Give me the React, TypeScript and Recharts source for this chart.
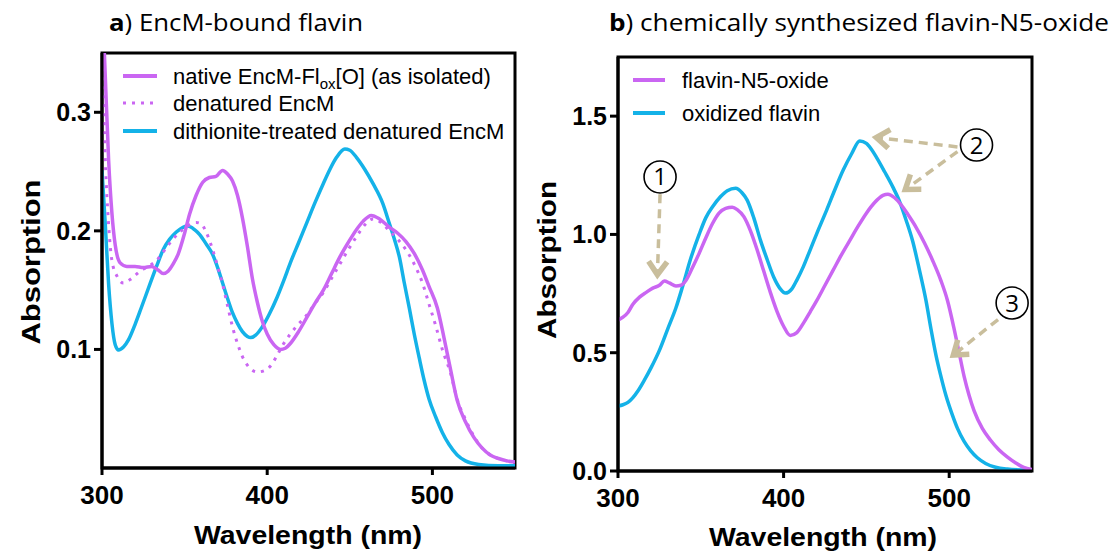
import React from 'react';
import { LineChart, Line, XAxis, YAxis, ReferenceArea, ReferenceLine, ReferenceDot } from 'recharts';

// ---------- Panel a: EncM-bound flavin ----------
const nativeWl = [300, 302, 304, 306, 308, 311, 315, 320, 325, 330, 334, 337, 340, 343, 346, 350, 353, 357, 361, 365, 369, 373, 376, 379, 382, 385, 388, 391, 394, 397, 400, 404, 408, 411, 414, 419, 424, 429, 434, 439, 444, 449, 454, 458, 463, 468, 474, 479, 484, 489, 494, 498, 503, 507, 511, 515, 520, 525, 530, 535, 540, 545, 550];
const nativeAbs = [0.40, 0.33, 0.26, 0.215, 0.188, 0.173, 0.170, 0.170, 0.169, 0.170, 0.167, 0.164, 0.166, 0.172, 0.180, 0.198, 0.214, 0.230, 0.241, 0.245, 0.246, 0.251, 0.248, 0.242, 0.230, 0.211, 0.187, 0.160, 0.140, 0.124, 0.113, 0.104, 0.100, 0.101, 0.105, 0.115, 0.127, 0.139, 0.150, 0.164, 0.178, 0.190, 0.201, 0.208, 0.213, 0.210, 0.203, 0.198, 0.191, 0.181, 0.167, 0.153, 0.135, 0.110, 0.083, 0.057, 0.039, 0.026, 0.017, 0.011, 0.008, 0.006, 0.005];

const denatWl = [300, 302, 304, 306, 309, 313, 318, 323, 328, 333, 338, 343, 348, 353, 357, 360, 363, 367, 370, 373, 376, 379, 382, 385, 389, 394, 398, 402, 406, 410, 414, 418, 424, 429, 434, 439, 444, 449, 454, 459, 464, 469, 474, 479, 484, 489, 494, 498, 502, 506, 511, 515, 520, 525, 530, 535, 540, 545, 550];
const denatAbs = [0.36, 0.26, 0.205, 0.175, 0.162, 0.156, 0.160, 0.166, 0.170, 0.175, 0.184, 0.193, 0.200, 0.205, 0.207, 0.206, 0.199, 0.184, 0.170, 0.155, 0.137, 0.119, 0.105, 0.094, 0.085, 0.081, 0.082, 0.086, 0.095, 0.105, 0.113, 0.120, 0.129, 0.139, 0.148, 0.160, 0.172, 0.184, 0.195, 0.205, 0.210, 0.207, 0.200, 0.193, 0.184, 0.172, 0.156, 0.138, 0.120, 0.100, 0.080, 0.058, 0.041, 0.027, 0.017, 0.011, 0.008, 0.006, 0.005];

const dithWl = [300, 302, 304, 306, 308, 310, 313, 316, 320, 324, 329, 333, 337, 341, 345, 349, 352, 356, 359, 363, 367, 370, 373, 376, 379, 382, 385, 388, 390, 393, 397, 401, 406, 410, 414, 419, 424, 429, 434, 438, 442, 447, 450, 454, 459, 464, 470, 474, 477, 480, 483, 486, 489, 492, 495, 498, 502, 506, 510, 515, 520, 528, 540, 550];
const dithAbs = [0.251, 0.205, 0.155, 0.122, 0.104, 0.0995, 0.102, 0.108, 0.121, 0.136, 0.155, 0.170, 0.184, 0.193, 0.199, 0.203, 0.204, 0.201, 0.197, 0.189, 0.180, 0.169, 0.156, 0.143, 0.131, 0.122, 0.115, 0.111, 0.110, 0.112, 0.119, 0.129, 0.144, 0.158, 0.173, 0.190, 0.207, 0.224, 0.240, 0.252, 0.262, 0.269, 0.268, 0.262, 0.252, 0.240, 0.223, 0.206, 0.193, 0.178, 0.156, 0.135, 0.113, 0.093, 0.074, 0.058, 0.043, 0.030, 0.020, 0.011, 0.006, 0.003, 0.002, 0.002];

const aYTicks = [0.1, 0.2, 0.3];
const xTicks = [300, 400, 500];

// ---------- Panel b: chemically synthesized flavin-N5-oxide ----------
const n5Wl = [300, 303, 306, 309, 313, 317, 321, 325, 328, 331, 335, 338, 341, 345, 349, 353, 357, 361, 365, 369, 372, 376, 380, 384, 388, 392, 396, 400, 404, 408, 412, 416, 420, 425, 430, 435, 440, 445, 450, 455, 460, 463, 467, 471, 475, 480, 485, 490, 495, 499, 503, 506, 509, 512, 515, 520, 525, 530, 535, 540, 545, 550];
const n5Abs = [0.638, 0.65, 0.67, 0.705, 0.735, 0.755, 0.773, 0.785, 0.803, 0.795, 0.782, 0.785, 0.805, 0.86, 0.92, 0.985, 1.045, 1.09, 1.11, 1.115, 1.105, 1.075, 1.015, 0.935, 0.845, 0.755, 0.675, 0.612, 0.573, 0.585, 0.625, 0.672, 0.72, 0.785, 0.85, 0.915, 0.975, 1.035, 1.09, 1.135, 1.165, 1.17, 1.155, 1.125, 1.085, 1.03, 0.965, 0.89, 0.805, 0.72, 0.6, 0.5, 0.4, 0.32, 0.255, 0.18, 0.13, 0.09, 0.06, 0.035, 0.015, 0.006];

const oxWl = [300, 303, 306, 309, 312, 316, 320, 325, 330, 335, 339, 344, 349, 353, 357, 362, 366, 371, 375, 378, 382, 386, 390, 394, 398, 401, 405, 408, 412, 416, 421, 426, 431, 436, 441, 446, 450, 453, 456, 461, 466, 470, 474, 478, 482, 486, 489, 492, 495, 498, 502, 505, 509, 513, 517, 522, 528, 535, 545, 550];
const oxAbs = [0.275, 0.28, 0.29, 0.31, 0.338, 0.385, 0.437, 0.51, 0.6, 0.69, 0.78, 0.9, 1.0, 1.07, 1.116, 1.16, 1.185, 1.195, 1.175, 1.145, 1.07, 0.976, 0.895, 0.82, 0.77, 0.752, 0.77, 0.807, 0.865, 0.934, 1.02, 1.103, 1.19, 1.272, 1.34, 1.395, 1.385, 1.36, 1.327, 1.265, 1.2, 1.14, 1.06, 0.97, 0.85, 0.72, 0.6, 0.49, 0.4, 0.32, 0.235, 0.18, 0.125, 0.085, 0.056, 0.032, 0.016, 0.008, 0.004, 0.003];

const bYTicks = [0, 0.5, 1.0, 1.5];

// annotation anchor points (data coordinates)
const markerLabels = ['1', '2', '3'];
const markerWl = [325.4, 516.5, 538];
const markerAbs = [1.243, 1.378, 0.71];
const arrowFrom = [[325.4, 1.17], [505, 1.37], [505, 1.35], [529.5, 0.64]];
const arrowTo = [[323.8, 0.83], [456, 1.41], [473.5, 1.19], [502.5, 0.49]];

const PURPLE = '#CA66F2';
const BLUE = '#14B2E8';
const TAN = '#C9BE9C';
const FONT = '"Liberation Sans", Arial, sans-serif';
const TFONT = '"Open Sans", sans-serif';

const toData = (wl: number[], ab: number[]) => wl.map((x, i) => ({ x, y: ab[i] }));

const ArrowShape = (p: any) => {
  const { x1, y1, x2, y2 } = p;
  const ang = Math.atan2(y2 - y1, x2 - x1);
  const L = 16;
  const a = 0.62;
  const hx1 = x2 - L * Math.cos(ang - a);
  const hy1 = y2 - L * Math.sin(ang - a);
  const hx2 = x2 - L * Math.cos(ang + a);
  const hy2 = y2 - L * Math.sin(ang + a);
  const sx = x2 - 4 * Math.cos(ang);
  const sy = y2 - 4 * Math.sin(ang);
  return (
    <g>
      <line x1={x1} y1={y1} x2={sx} y2={sy} stroke={TAN} strokeWidth={3.5} strokeDasharray="9 6" />
      <polyline points={`${hx1},${hy1} ${x2},${y2} ${hx2},${hy2}`} fill="none" stroke={TAN} strokeWidth={5.5} strokeLinejoin="miter" />
    </g>
  );
};

const CircleNum = (label: string) => (p: any) => (
  <g>
    <circle cx={p.cx} cy={p.cy} r={16} fill="#fff" stroke="#000" strokeWidth={1.6} />
    <text x={p.cx} y={p.cy + 8.5} textAnchor="middle" fontFamily={TFONT} fontSize={24} fill="#000">{label}</text>
  </g>
);

const tickStyleY = { fontFamily: FONT, fontWeight: 700, fontSize: 25, fill: '#000' };
const tickStyleX = { fontFamily: FONT, fontWeight: 700, fontSize: 26, fill: '#000' };
const axisLine = { stroke: '#000', strokeWidth: 3 };

export default function App() {
  return (
    <div style={{ position: 'absolute', left: 0, top: 0, width: 1120, height: 554, background: '#fff', overflow: 'hidden' }}>
      <div style={{ position: 'absolute', left: 0, top: 0 }}>
        <LineChart width={545} height={554} margin={{ top: 53, right: 30, left: 32, bottom: 36 }}>
          <XAxis dataKey="x" type="number" domain={[300, 550]} ticks={xTicks} allowDataOverflow
            axisLine={axisLine} tickLine={axisLine} tickSize={7} tickMargin={11} tick={tickStyleX} height={50} />
          <YAxis type="number" domain={[0, 0.35]} ticks={aYTicks} allowDataOverflow width={70}
            axisLine={axisLine} tickLine={axisLine} tickSize={8} tickMargin={3} tick={tickStyleY} />
          <ReferenceArea x1={300} x2={550} y1={0} y2={0.35} fill="none" stroke="#000" strokeWidth={3} fillOpacity={0} />
          <Line data={toData(dithWl, dithAbs)} dataKey="y" type="monotone" stroke={BLUE} strokeWidth={3.5} dot={false} isAnimationActive={false} />
          <Line data={toData(denatWl, denatAbs)} dataKey="y" type="monotone" stroke={PURPLE} strokeWidth={3} strokeDasharray="3 6" dot={false} isAnimationActive={false} />
          <Line data={toData(nativeWl, nativeAbs)} dataKey="y" type="monotone" stroke={PURPLE} strokeWidth={3.5} dot={false} isAnimationActive={false} />
        </LineChart>
      </div>
      <div style={{ position: 'absolute', left: 530, top: 0 }}>
        <LineChart width={540} height={554} margin={{ top: 57, right: 38, left: 18, bottom: 33 }}>
          <XAxis dataKey="x" type="number" domain={[300, 550]} ticks={xTicks} allowDataOverflow
            axisLine={axisLine} tickLine={axisLine} tickSize={7} tickMargin={11} tick={tickStyleX} height={50} />
          <YAxis type="number" domain={[0, 1.75]} ticks={bYTicks} allowDataOverflow width={70}
            tickFormatter={(v: number) => v.toFixed(1)}
            axisLine={axisLine} tickLine={axisLine} tickSize={8} tickMargin={3} tick={tickStyleY} />
          <ReferenceArea x1={300} x2={550} y1={0} y2={1.75} fill="none" stroke="#000" strokeWidth={3} fillOpacity={0} />
          <Line data={toData(oxWl, oxAbs)} dataKey="y" type="monotone" stroke={BLUE} strokeWidth={3.5} dot={false} isAnimationActive={false} />
          <Line data={toData(n5Wl, n5Abs)} dataKey="y" type="monotone" stroke={PURPLE} strokeWidth={3.5} dot={false} isAnimationActive={false} />
          {arrowFrom.map((f, i) => (
            <ReferenceLine key={'ar' + i} segment={[{ x: f[0], y: f[1] }, { x: arrowTo[i][0], y: arrowTo[i][1] }]} shape={ArrowShape} ifOverflow="visible" />
          ))}
          {markerLabels.map((l, i) => (
            <ReferenceDot key={'m' + i} x={markerWl[i]} y={markerAbs[i]} r={16} shape={CircleNum(l)} ifOverflow="visible" />
          ))}
        </LineChart>
      </div>
      <svg width={1120} height={554} style={{ position: 'absolute', left: 0, top: 0, pointerEvents: 'none' }}>
        {/* titles */}
        <text x={109} y={31} fontFamily={TFONT} fontSize={24} fill="#000" textLength={254} lengthAdjust="spacingAndGlyphs">
          <tspan fontWeight={700}>a</tspan>) EncM-bound flavin
        </text>
        <text x={609} y={31} fontFamily={TFONT} fontSize={24} fill="#000" textLength={500} lengthAdjust="spacingAndGlyphs">
          <tspan fontWeight={700}>b</tspan>) chemically synthesized flavin-N5-oxide
        </text>
        {/* axis titles */}
        <text x={308} y={544} textAnchor="middle" fontFamily={FONT} fontWeight={700} fontSize={26} fill="#000" textLength={228} lengthAdjust="spacingAndGlyphs">Wavelength (nm)</text>
        <text x={823} y={546} textAnchor="middle" fontFamily={FONT} fontWeight={700} fontSize={26} fill="#000" textLength={228} lengthAdjust="spacingAndGlyphs">Wavelength (nm)</text>
        <text transform="translate(40,262) rotate(-90)" textAnchor="middle" fontFamily={FONT} fontWeight={700} fontSize={26} fill="#000" textLength={165} lengthAdjust="spacingAndGlyphs">Absorption</text>
        <text transform="translate(556,260) rotate(-90)" textAnchor="middle" fontFamily={FONT} fontWeight={700} fontSize={26} fill="#000" textLength={158} lengthAdjust="spacingAndGlyphs">Absorption</text>
        {/* legend a */}
        <line x1={123} x2={157} y1={76} y2={76} stroke={PURPLE} strokeWidth={4} />
        <line x1={123} x2={157} y1={103} y2={103} stroke={PURPLE} strokeWidth={3} strokeDasharray="3 6" />
        <line x1={123} x2={157} y1={131} y2={131} stroke={BLUE} strokeWidth={4} />
        <text x={173} y={84} fontFamily={FONT} fontSize={22} fill="#000">
          native EncM-Fl<tspan dy={5} fontSize={15}>ox</tspan><tspan dy={-5}>[O] (as isolated)</tspan>
        </text>
        <text x={173} y={111} fontFamily={FONT} fontSize={22} fill="#000">denatured EncM</text>
        <text x={173} y={139} fontFamily={FONT} fontSize={22} fill="#000">dithionite-treated denatured EncM</text>
        {/* legend b */}
        <line x1={633} x2={665} y1={80} y2={80} stroke={PURPLE} strokeWidth={4} />
        <line x1={633} x2={665} y1={113} y2={113} stroke={BLUE} strokeWidth={4} />
        <text x={682} y={88} fontFamily={FONT} fontSize={22} fill="#000">flavin-N5-oxide</text>
        <text x={682} y={121} fontFamily={FONT} fontSize={22} fill="#000">oxidized flavin</text>
      </svg>
    </div>
  );
}
